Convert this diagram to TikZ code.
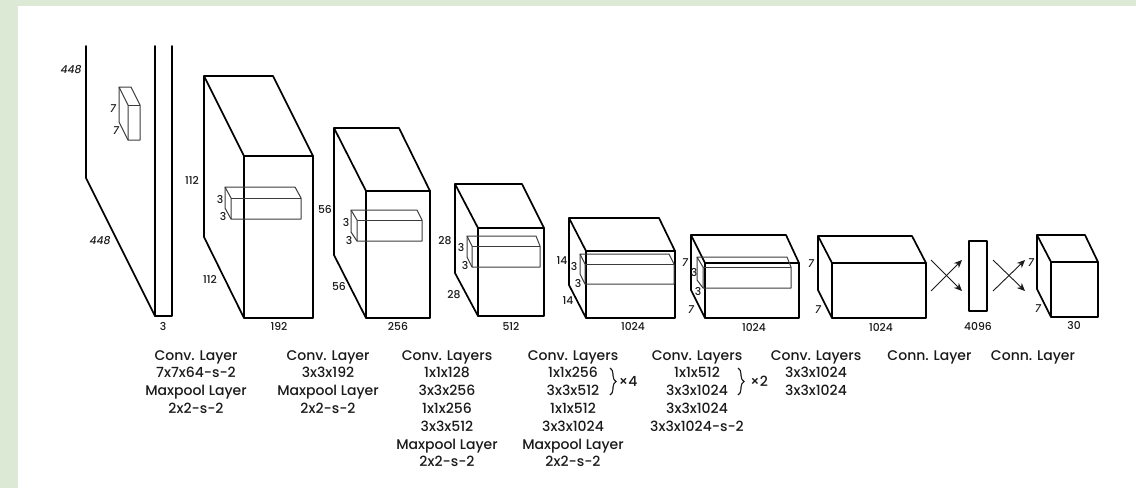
\documentclass[tikz,border=0pt]{standalone}
\usepackage{fontspec}
\setmainfont{Poppins Medium}[ItalicFont={Poppins Medium Italic}]
\usetikzlibrary{arrows.meta,decorations.pathreplacing}
\definecolor{bggreen}{HTML}{DCEAD5}
\definecolor{inkdark}{HTML}{1A1A1A}
\tikzset{
  outline/.style={draw=black,line width=1.7pt,line join=round,line cap=round},
  inner box/.style={draw=inkdark!85,line width=1pt,line join=round},
  dimlabel/.style={font=\fontsize{10.8}{12}\selectfont,text=inkdark,inner sep=0pt},
  slantlabel/.style={font=\fontsize{10.8}{12}\selectfont\itshape,text=inkdark,inner sep=0pt},
  caption/.style={font=\fontsize{14}{17.8}\selectfont,align=center,anchor=north,text=inkdark,inner sep=0pt},
  flow/.style={draw=inkdark,line width=0.9pt,-{Stealth[length=8pt,width=7pt]}},
}
% back-left x,y ; back-right x ; left-edge bottom y ; front x1,y1,x2,y2
\newcommand\cuboid[9][outline]{%
  \draw[#1] (#2,#3) -- (#4,#3) -- (#8,#7) -- (#8,#9) -- (#6,#9) -- (#6,#7) -- cycle;
  \draw[#1] (#2,#3) -- (#2,#5) -- (#6,#9);
  \draw[#1] (#6,#7) -- (#8,#7);
}
\begin{document}
\begin{tikzpicture}[x=1pt,y=-1pt]
\useasboundingbox (0,0) rectangle (1136,488);
\fill[bggreen] (0,0) rectangle (1136,488);
\fill[white] (18,6) rectangle (1136,488);

% input image
\draw[outline] (86,46) -- (86,178) -- (155,316) -- (172,316) -- (172,46);
\draw[outline] (155,46) -- (155,316);
\cuboid[inner box]{119}{87}{131}{122}{128}{105}{140}{140}
\node[slantlabel] (a1) at (71,70) {448};
\node[slantlabel] (a2) at (100,241) {448};
\node[slantlabel] (a3) at (113,109) {7};
\node[slantlabel] (a4) at (116,131) {7};
\node[dimlabel] (a5) at (163,326) {3};

% block 2
\cuboid{204}{76}{273}{237}{244}{156}{313}{318}
\cuboid[inner box]{225}{187}{295}{208}{231}{198}{301}{219}
\node[dimlabel] (b1) at (192,180) {112};
\node[dimlabel] (b2) at (210,279) {112};
\node[dimlabel] (b3) at (220,199) {3};
\node[dimlabel] (b4) at (223,216) {3};
\node[dimlabel] (b5) at (279,326) {192};

% block 3
\cuboid{334}{128}{399}{255}{366}{191}{430}{318}
\cuboid[inner box]{351}{210}{417}{232}{357}{220}{422}{241}
\node[dimlabel] (c1) at (325,209) {56};
\node[dimlabel] (c2) at (339,286) {56};
\node[dimlabel] (c3) at (346,222) {3};
\node[dimlabel] (c4) at (349,240) {3};
\node[dimlabel] (c5) at (398,326) {256};

% block 4
\cuboid{455}{184}{522}{273}{478}{228}{544}{316}
\cuboid[inner box]{467}{236}{536}{257}{472}{246}{540}{267}
\node[dimlabel] (d1) at (445,241) {28};
\node[dimlabel] (d2) at (454,295) {28};
\node[dimlabel] (d3) at (461,247) {3};
\node[dimlabel] (d4) at (465,265) {3};
\node[dimlabel] (d5) at (511,326) {512};

% block 5
\cuboid{569}{218}{659}{285}{586}{251}{675}{318}
\cuboid[inner box]{580}{254}{669}{274}{585}{264}{674}{284}
\node[dimlabel] (e1) at (562,261) {14};
\node[dimlabel] (e2) at (568,301) {14};
\node[dimlabel] (e3) at (574,266) {3};
\node[dimlabel] (e4) at (578,283) {3};
\node[dimlabel] (e5) at (633,326) {1024};

% block 6
\cuboid{691}{235}{786}{290}{705}{263}{799}{318}
\cuboid[inner box]{697}{257}{787}{280}{703}{267}{791}{288}
\node[slantlabel] (f1) at (685,263) {7};
\node[dimlabel] (f2) at (694,272) {3};
\node[dimlabel] (f3) at (698,291) {3};
\node[slantlabel] (f4) at (691,310) {7};
\node[dimlabel] (f5) at (754,327) {1024};

% block 7
\cuboid{818}{236}{912}{290}{832}{263}{926}{318}
\node[slantlabel] (g1) at (811,264) {7};
\node[slantlabel] (g2) at (818,310) {7};
\node[dimlabel] (g3) at (881,327) {1024};

% crossing arrows into the 4096 layer
\coordinate (p1) at (931,260);
\coordinate (p2) at (962,291);
\coordinate (p3) at (931,291);
\coordinate (p4) at (962,260);
\draw[flow] (p1) -- (p2);
\draw[flow] (p3) -- (p4);

% 4096 layer
\node[outline,minimum width=18pt,minimum height=70pt,inner sep=0pt] (fc) at (978,276) {};
\node[dimlabel] (h1) at (978,326) {4096};

% crossing arrows out of the 4096 layer
\coordinate (q1) at (993,260);
\coordinate (q2) at (1025,291);
\coordinate (q3) at (993,291);
\coordinate (q4) at (1025,260);
\draw[flow] (q1) -- (q2);
\draw[flow] (q3) -- (q4);

% output block
\cuboid{1037}{235}{1085}{289}{1051}{262}{1098}{317}
\node[slantlabel] (i1) at (1031,263) {7};
\node[slantlabel] (i2) at (1038,309) {7};
\node[dimlabel] (i3) at (1074,325) {30};

% captions
\node[caption] (t1) at (196,350) {Conv. Layer\\7x7x64-s-2\\Maxpool Layer\\2x2-s-2};
\node[caption] (t2) at (328,350) {Conv. Layer\\3x3x192\\Maxpool Layer\\2x2-s-2};
\node[caption] (t3) at (447,350) {Conv. Layers\\1x1x128\\3x3x256\\1x1x256\\3x3x512\\Maxpool Layer\\2x2-s-2};
\node[caption] (t4) at (573,350) {Conv. Layers\\1x1x256\\3x3x512\\1x1x512\\3x3x1024\\Maxpool Layer\\2x2-s-2};
\node[caption] (t5) at (697,350) {Conv. Layers\\1x1x512\\3x3x1024\\3x3x1024\\3x3x1024-s-2};
\node[caption] (t6) at (816,350) {Conv. Layers\\3x3x1024\\3x3x1024};
\node[caption] (t7) at (929.5,350) {Conn. Layer};
\node[caption] (t8) at (1033,350) {Conn. Layer};

% repeat braces
\coordinate (br1a) at (610,368);
\coordinate (br1b) at (610,395);
\draw[decorate,decoration={brace,amplitude=6pt},line width=1.1pt,inkdark] (br1a) -- (br1b);
\node[caption,anchor=center] (x4) at (628,381) {×4};
\coordinate (br2a) at (738,368);
\coordinate (br2b) at (738,395);
\draw[decorate,decoration={brace,amplitude=6pt},line width=1.1pt,inkdark] (br2a) -- (br2b);
\node[caption,anchor=center] (x2) at (759,381) {×2};
\end{tikzpicture}
\end{document}
